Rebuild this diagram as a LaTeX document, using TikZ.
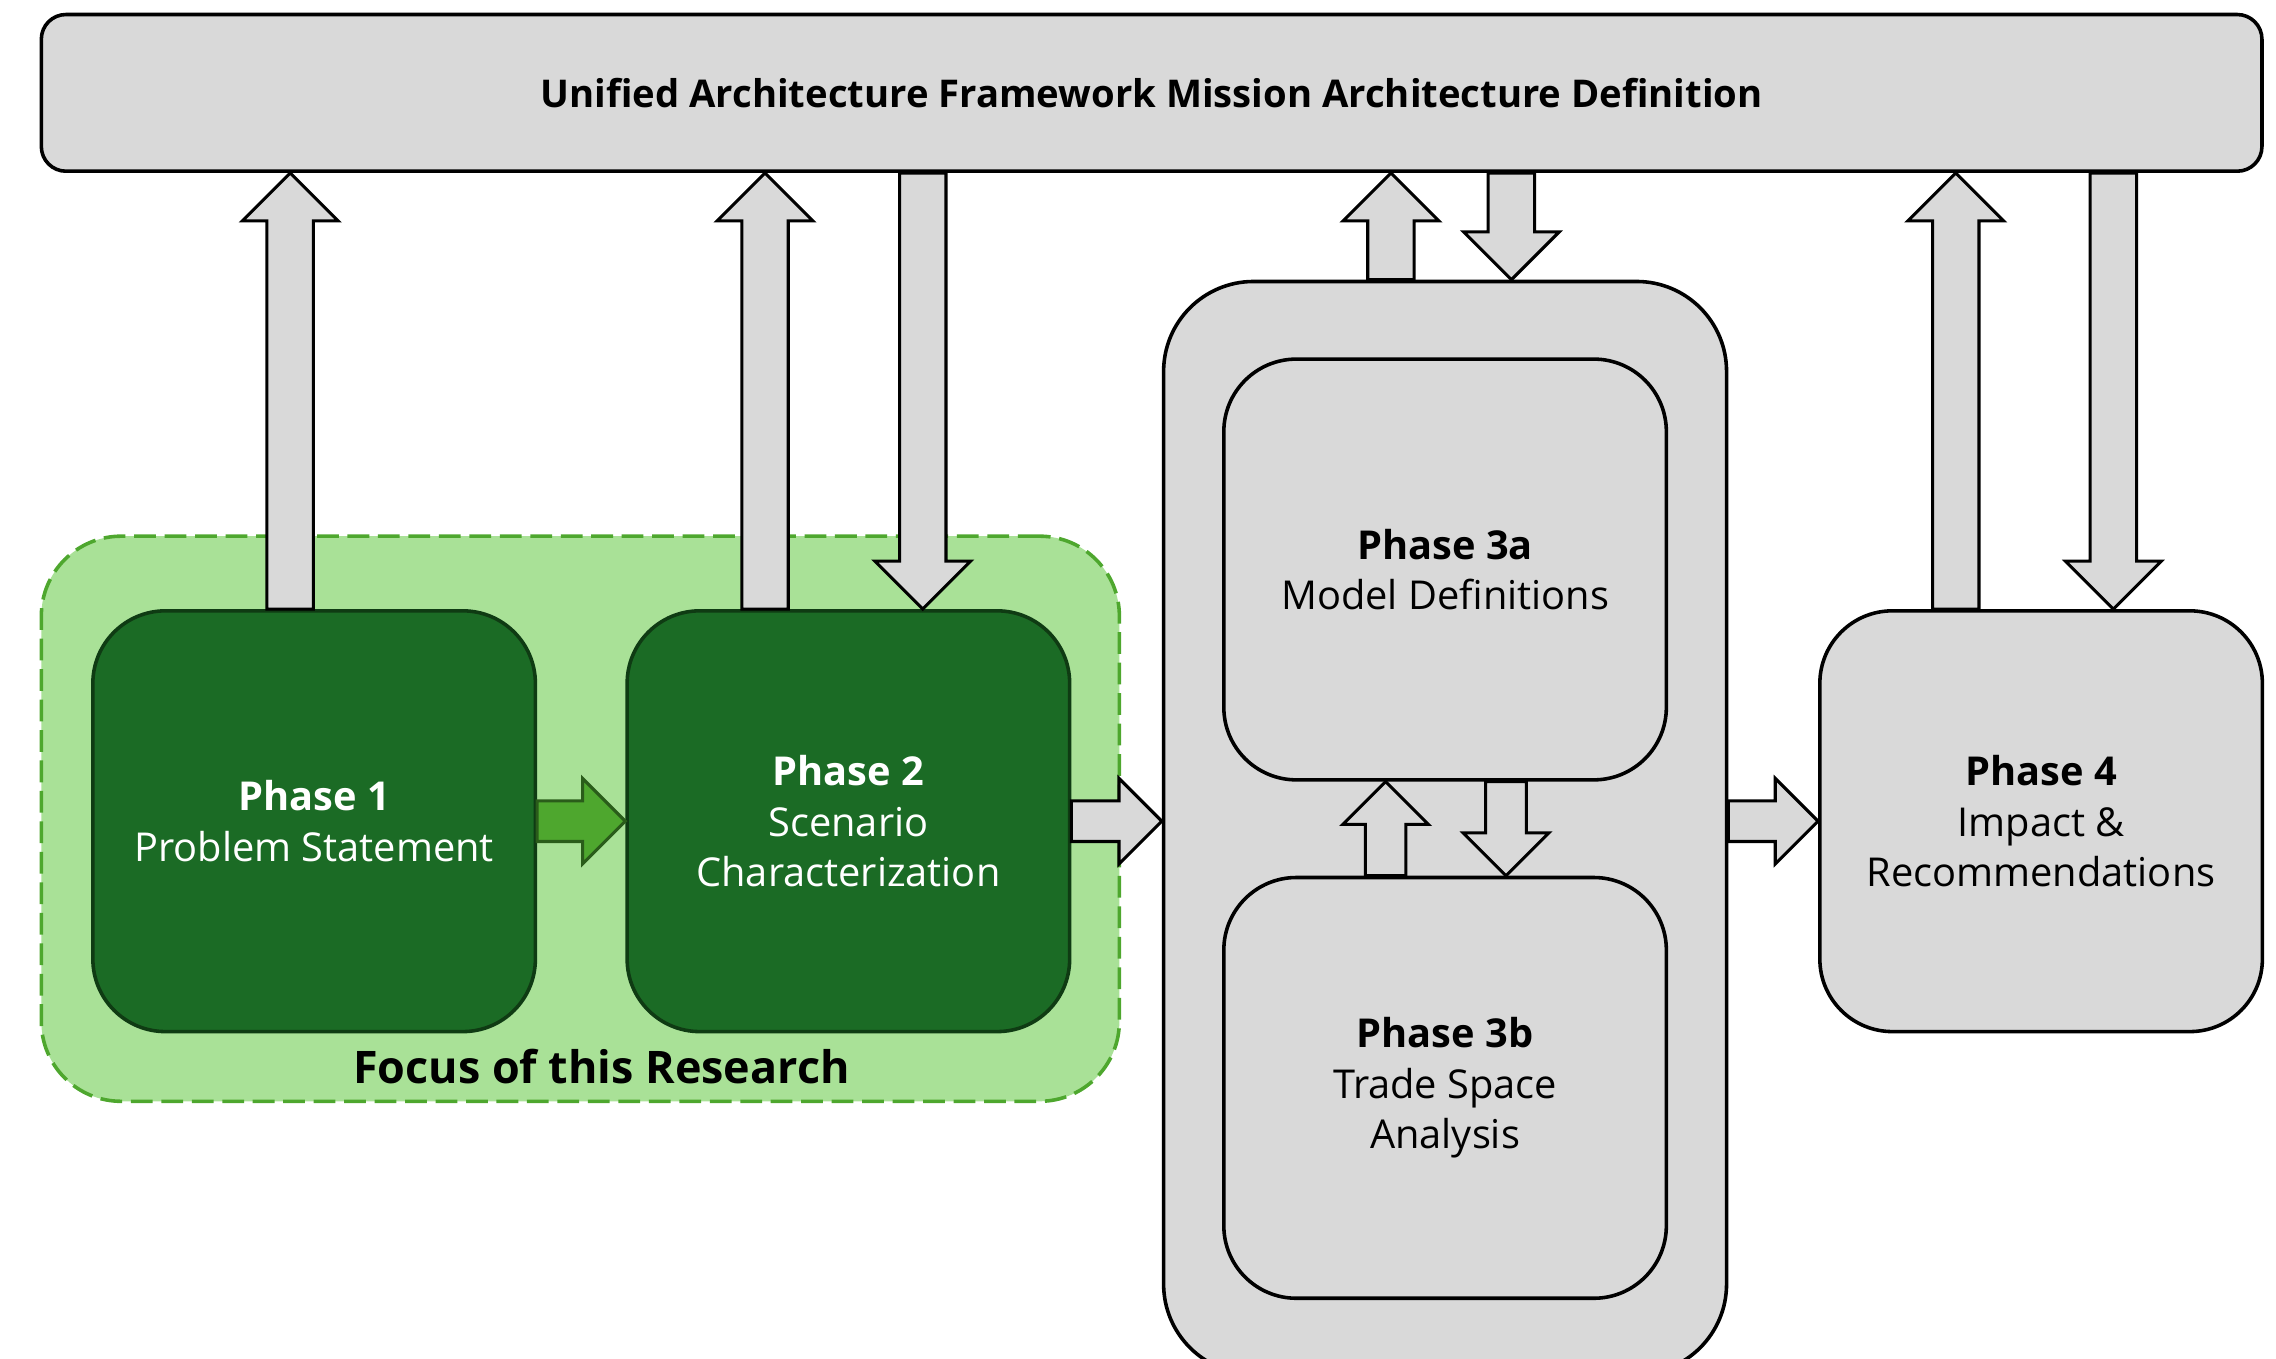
\documentclass[tikz,border=0pt]{standalone}
\usepackage{fontspec}
\setmainfont{Open Sans}
\usetikzlibrary{calc}

\definecolor{boxgray}{HTML}{D9D9D9}
\definecolor{phasegreen}{HTML}{1B6B25}
\definecolor{phaseedge}{HTML}{0F3B13}
\definecolor{focusgreen}{HTML}{A9E197}
\definecolor{focusedge}{HTML}{4EA72E}
\definecolor{arrowgreen}{HTML}{4EA72E}
\definecolor{arrowedge}{HTML}{2A5C1A}

\tikzset{
  phase/.style={draw=black, line width=1.4pt, fill=boxgray, rounded corners=10mm,
    minimum width=61mm, minimum height=58mm, inner sep=0pt, align=center,
    font=\fontsize{15.6}{19.9}\selectfont},
  focus phase/.style={phase, draw=phaseedge, fill=phasegreen, text=white},
  % block arrow: shaft half width, head half width, head length
  fat arrow/.style n args={3}{draw=black, line width=1.2pt, fill=boxgray, line join=miter,
    to path={($(\tikztostart)!#1!90:(\tikztotarget)$)
      -- ($(\tikztotarget)!#3!(\tikztostart)!#1!90:(\tikztotarget)$)
      -- ($(\tikztotarget)!#3!(\tikztostart)!#2!90:(\tikztotarget)$)
      -- (\tikztotarget)
      -- ($(\tikztotarget)!#3!(\tikztostart)!#2!-90:(\tikztotarget)$)
      -- ($(\tikztotarget)!#3!(\tikztostart)!#1!-90:(\tikztotarget)$)
      -- ($(\tikztostart)!#1!-90:(\tikztotarget)$) -- cycle}},
  big arrow/.style={fat arrow={3.2mm}{6.6mm}{6.6mm}},
  small arrow/.style={fat arrow={2.8mm}{5.9mm}{5.9mm}},
  green arrow/.style={small arrow, fill=arrowgreen, draw=arrowedge},
}

\begin{document}
\begin{tikzpicture}[x=0.2mm, y=-0.2mm]
  \path[use as bounding box, clip] (0,0) rectangle (1568.7,936);

  \node[draw=focusedge, fill=focusgreen, line width=1.4pt, dash pattern=on 3mm off 1.2mm,
    rounded corners=11mm, minimum width=148.6mm, minimum height=77.9mm] (Focus) at (400,564.3) {};
  \node[font=\fontsize{17.6}{21}\selectfont\bfseries] (Focus Label) at (414.5,735) {Focus of this Research};

  \node[phase, rounded corners=3.4mm, minimum width=306.1mm, minimum height=21.6mm,
    font=\fontsize{15}{19.9}\selectfont\bfseries] (UAF) at (793.75,64)
    {Unified Architecture Framework Mission Architecture Definition};

  \node[focus phase] (Phase 1) at (216.5,566) {\textbf{Phase 1}\\Problem Statement};
  \node[focus phase] (Phase 2) at (584.75,566) {\textbf{Phase 2}\\Scenario\\Characterization};

  \node[phase, rounded corners=12.4mm, minimum width=77.6mm, minimum height=150.6mm] (Phase 3) at (996,570.5) {};
  \node[phase] (Phase 3a) at (996,392.5) {\textbf{Phase 3a}\\Model Definitions};
  \node[phase] (Phase 3b) at (996,749.8) {\textbf{Phase 3b}\\Trade Space\\Analysis};
  \node[phase] (Phase 4) at (1406.8,566) {\textbf{Phase 4}\\Impact \&\\Recommendations};

  \draw[green arrow] (Phase 1.east) to (Phase 2.west);
  \draw[small arrow] (Phase 2.east) to (Phase 3.west |- Phase 2.east);
  \draw[small arrow] (Phase 3.east |- Phase 4.west) to (Phase 4.west);
  \draw[small arrow] (955,0 |- Phase 3b.north) to (955,0 |- Phase 3a.south);
  \draw[small arrow] (1038,0 |- Phase 3a.south) to (1038,0 |- Phase 3b.north);

  \draw[big arrow] (200,0 |- Phase 1.north) to (200,0 |- UAF.south);
  \draw[big arrow] (527.3,0 |- Phase 2.north) to (527.3,0 |- UAF.south);
  \draw[big arrow] (636,0 |- UAF.south) to (636,0 |- Phase 2.north);
  \draw[big arrow] (958.7,0 |- Phase 3.north) to (958.7,0 |- UAF.south);
  \draw[big arrow] (1041.7,0 |- UAF.south) to (1041.7,0 |- Phase 3.north);
  \draw[big arrow] (1348,0 |- Phase 4.north) to (1348,0 |- UAF.south);
  \draw[big arrow] (1456.6,0 |- UAF.south) to (1456.6,0 |- Phase 4.north);
\end{tikzpicture}
\end{document}
